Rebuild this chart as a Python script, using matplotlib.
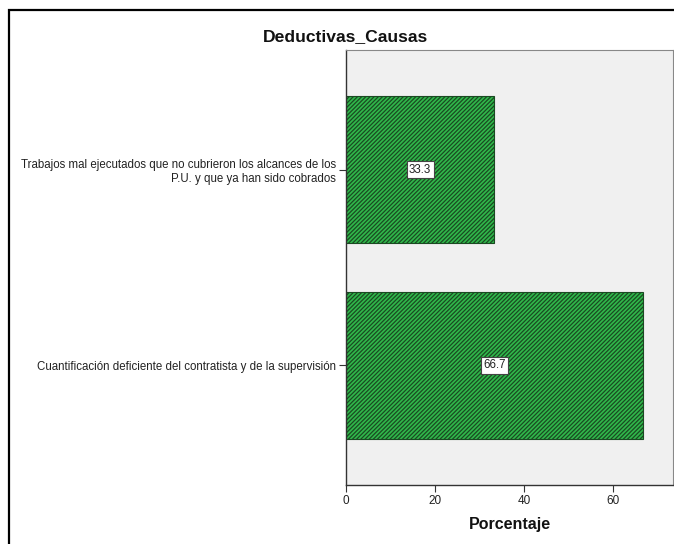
import numpy as np
import matplotlib
matplotlib.use('Agg')
import matplotlib.pyplot as plt
from matplotlib.patches import Rectangle

params = {'font.family': ['Liberation Sans', 'DejaVu Sans'],
          'hatch.linewidth': 0.9,
          'xtick.labelsize': 8.5,
          'ytick.labelsize': 8.3}
matplotlib.rcParams.update(params)

# data
categorias = ['Trabajos mal ejecutados que no cubrieron los alcances de los\nP.U. y que ya han sido cobrados',
              'Cuantificación deficiente del contratista y de la supervisión']
porcentaje = [33.3, 66.7]
xticks = [0, 20, 40, 60]

W, H = 674, 544
fig = plt.figure(figsize=(W / 100, H / 100), dpi=100)
ax = fig.add_axes([346 / W, 1 - 485 / H, (673 - 346) / W, (485 - 50) / H])
ax.set_facecolor('#f0f0f0')

ypos = np.arange(len(categorias))
ax.barh(ypos, porcentaje, height=0.75, color='#30b84b', edgecolor='#1a4a22',
        linewidth=0.8, hatch='////////')

for y, v in zip(ypos, porcentaje):
    ax.text(v / 2, y, '%.1f' % v, ha='center', va='center', fontsize=8.3,
            color='#222222',
            bbox=dict(boxstyle='square,pad=0.2', facecolor='white',
                      edgecolor='#444444', linewidth=0.8))

ax.set_xlim(0, 73.5)
ax.set_ylim(1.61, -0.61)
ax.set_xticks(xticks)
ax.set_yticks(ypos)
ax.set_yticklabels(categorias, color='#222222')
ax.tick_params(axis='both', direction='out', length=5, width=0.8, color='#333333', pad=2)
ax.tick_params(axis='x', colors='#333333', labelcolor='#222222')

for s in ['left', 'bottom']:
    ax.spines[s].set_color('#333333')
    ax.spines[s].set_linewidth(1.0)
for s in ['top', 'right']:
    ax.spines[s].set_color('#888888')
    ax.spines[s].set_linewidth(0.8)

fig.text(345 / W, 1 - 37 / H, 'Deductivas_Causas', ha='center', va='center',
         fontsize=12.6, fontweight='bold', color='#111111')
fig.text(510 / W, 1 - 524 / H, 'Porcentaje', ha='center', va='center',
         fontsize=11.5, fontweight='bold', color='#111111')

# outer frame (right and bottom edges fall outside the image)
fig.patches.append(Rectangle((9 / W, -0.05), 1.2, 1 - 10 / H + 0.05,
                             transform=fig.transFigure, fill=False,
                             edgecolor='black', linewidth=1.6))

plt.savefig('out.png', dpi=100)
